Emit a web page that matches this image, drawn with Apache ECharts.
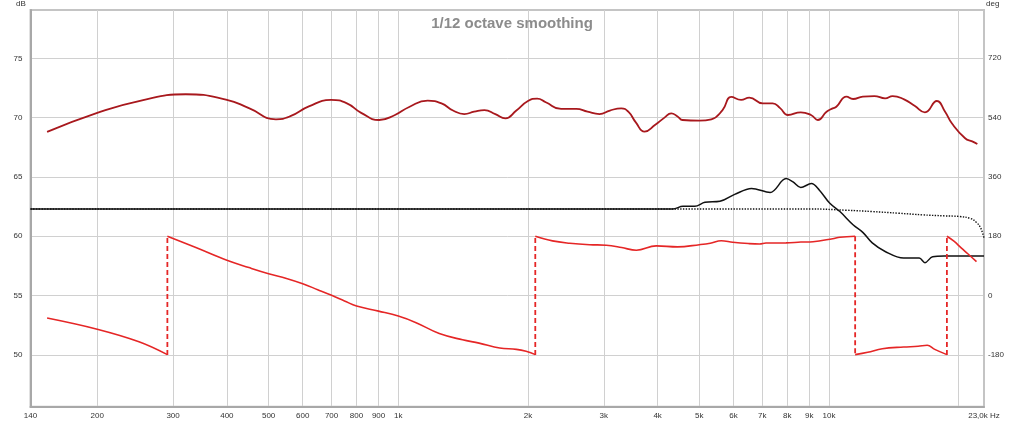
<!DOCTYPE html>
<html><head><meta charset="utf-8">
<script src="https://cdn.jsdelivr.net/npm/echarts@6/dist/echarts.min.js"></script>
<style>html,body{margin:0;padding:0;background:#fff}#c{width:1024px;height:424px}</style>
</head><body><div id="c"></div>
<script>
// ---- data ----
const tickFreq  = [140,200,300,400,500,600,700,800,900,1000,2000,3000,4000,5000,6000,7000,8000,9000,10000,22900];
const tickLabel = ['140','200','300','400','500','600','700','800','900','1k','2k','3k','4k','5k','6k','7k','8k','9k','10k','23,0k Hz'];
const gridFreq  = [200,300,400,500,600,700,800,900,1000,2000,3000,4000,5000,6000,7000,8000,9000,10000,20000];
const dbTicks   = [50,55,60,65,70,75];
const degTicks  = [-180,0,180,360,540,720];

const magFreq = [153,200,250,321,400,450,520,560,620,698,760,820,903,980,1060,1170,1260,1340,1423,1500,1585,1680,1773,1880,2000,2101,2200,2388,2590,2750,2932,3100,3293,3420,3560,3730,3950,4150,4302,4450,4570,5000,5330,5660,5930,6250,6530,7020,7400,7700,8030,8600,9100,9420,9870,10200,10400,10980,11370,11980,12740,13500,14050,14940,15800,16700,17800,18600,19300,20700,21500,22100];
const magDb   = [68.8,70.4,71.4,71.97,71.5,70.8,69.86,70.1,70.95,71.49,71.2,70.4,69.8,70.2,70.9,71.43,71.2,70.6,70.3,70.5,70.64,70.3,69.94,70.6,71.4,71.6,71.3,70.73,70.73,70.5,70.3,70.6,70.78,70.5,69.6,68.82,69.4,70.0,70.36,70.1,69.8,69.74,69.86,70.64,71.75,71.49,71.68,71.2,71.2,70.8,70.22,70.45,70.2,69.8,70.5,70.78,70.92,71.77,71.57,71.77,71.82,71.63,71.82,71.54,71.0,70.45,71.4,70.5,69.5,68.26,68.0,67.78];

// wrapped phase, null = break at a wrap
const phaseFreq = [153,200,250,291, null,
  291,340,400,450,500,550,600,650,700,750,800,900,1000,1100,1245,1410,1540,1720,1880,1980,2080, null,
  2080,2280,2500,2780,3040,3300,3570,3970,4450,5000,5300,5620,5980,6500,6900,7140,7950,8600,9180,10200,10600,11500, null,
  11500,12300,13300,14900,16100,16900,17600,18780, null,
  18780,19500,20300,21000,22000];
const phaseDeg = [-68,-102,-140,-179, null,
  180,145,107,85,66.5,52,36,18,1,-16,-31.5,-47,-62,-82,-115,-134,-144,-159,-163,-169,-179, null,
  180,166,159,154.5,153,146,137.5,151,148,154.5,159,166.6,162,158,156.6,159.7,160,162.5,163.6,172.7,177,180, null,
  -179,-172,-161,-156,-153.8,-150.7,-163,-179, null,
  180,165,144,127,103];

// dashed wrap jumps
const wrapFreq = [291,2080,11500,18780];
const wrapFrom = [-180,-180,180,-180];
const wrapTo   = [180,180,-180,180];

const blackFreq = [140,4340,4580,4880,5150,5580,6040,6610,7300,7950,8250,8600,9100,9500,10030,10600,11370,11980,12600,13500,14900,16200,16700,17400,18500,22900];
const blackDeg  = [263,263,271,271,283,286,307,325,313,355,345,328,340,320,281,255,215,192,160,134,114,114,100,118,120,120];

const dotFreq = [140,9000,11000,12600,14500,16500,18500,20100,21300,22000,22500,22900];
const dotDeg  = [263,263,259,255,250,245,242,240,234,222,205,175];

// ---- build ----
const L = Math.log10;
const pts = (fs, vs) => fs.map((f, i) => f === null ? [NaN, NaN] : [L(f), vs[i]]);
const wrapPts = [];
wrapFreq.forEach((f, i) => { wrapPts.push([L(f), wrapFrom[i]], [L(f), wrapTo[i]], [NaN, NaN]); });
const FF = 'Liberation Sans, Arial, sans-serif';
function xLabel(v) {
  for (let i = 0; i < tickFreq.length; i++) if (Math.abs(L(tickFreq[i]) - v) < 1e-6) return tickLabel[i];
  return '';
}
const chart = echarts.init(document.getElementById('c'), null, {renderer: 'canvas'});
chart.setOption({
  animation: false,
  backgroundColor: '#ffffff',
  title: {text: '1/12 octave smoothing', left: 'center', top: 11,
    textStyle: {fontFamily: FF, fontSize: 15, fontWeight: 'bold', color: '#8c8c8c'}},
  graphic: [
    {type: 'text', left: 16, top: 0, style: {text: 'dB', fontFamily: FF, fontSize: 8, fill: '#333'}},
    {type: 'text', left: 986, top: 0, style: {text: 'deg', fontFamily: FF, fontSize: 8, fill: '#333'}}
  ],
  grid: {left: 30.5, right: 40, top: 10, bottom: 17.3, show: true, borderColor: '#c4c4c4', borderWidth: 2, backgroundColor: '#fff'},
  xAxis: {
    type: 'value', min: L(140), max: L(22900),
    axisLine: {show: true, onZero: false, lineStyle: {color: '#a8a8a8', width: 2}},
    axisTick: {show: false, customValues: gridFreq.map(L)},
    splitLine: {show: true, lineStyle: {color: '#d0d0d0', width: 1}},
    axisLabel: {customValues: tickFreq.map(L), formatter: xLabel, fontFamily: FF, fontSize: 8, color: '#333', margin: 5}
  },
  yAxis: [
    {type: 'value', min: 45.64, max: 79.07, position: 'left',
      axisLine: {show: true, lineStyle: {color: '#a8a8a8', width: 2}},
      axisTick: {show: false, customValues: dbTicks},
      splitLine: {show: true, lineStyle: {color: '#d0d0d0', width: 1}},
      axisLabel: {customValues: dbTicks, fontFamily: FF, fontSize: 8, color: '#333', margin: 8}},
    {type: 'value', min: -336.96, max: 866.5, position: 'right',
      axisLine: {show: true, lineStyle: {color: '#c4c4c4', width: 2}},
      axisTick: {show: false, customValues: degTicks},
      splitLine: {show: false},
      axisLabel: {customValues: degTicks, fontFamily: FF, fontSize: 8, color: '#333', margin: 4}}
  ],
  series: [
    {name: 'dotted', type: 'line', yAxisIndex: 1, data: pts(dotFreq, dotDeg), symbol: 'none', smooth: 0.4,
      lineStyle: {color: '#111', width: 1.4, type: 'dotted'}},
    {name: 'black', type: 'line', yAxisIndex: 1, data: pts(blackFreq, blackDeg), symbol: 'none', smooth: 0.35,
      lineStyle: {color: '#111', width: 1.5}},
    {name: 'wrap', type: 'line', yAxisIndex: 1, data: wrapPts, symbol: 'none', connectNulls: false,
      lineStyle: {color: '#e52626', width: 1.8, type: [5, 3]}},
    {name: 'phase', type: 'line', yAxisIndex: 1, data: pts(phaseFreq, phaseDeg), symbol: 'none', connectNulls: false, smooth: 0.4,
      lineStyle: {color: '#e52626', width: 1.6}},
    {name: 'magnitude', type: 'line', yAxisIndex: 0, data: pts(magFreq, magDb), symbol: 'none', smooth: 0.5,
      lineStyle: {color: '#a8181d', width: 1.8}}
  ]
});
</script></body></html>
